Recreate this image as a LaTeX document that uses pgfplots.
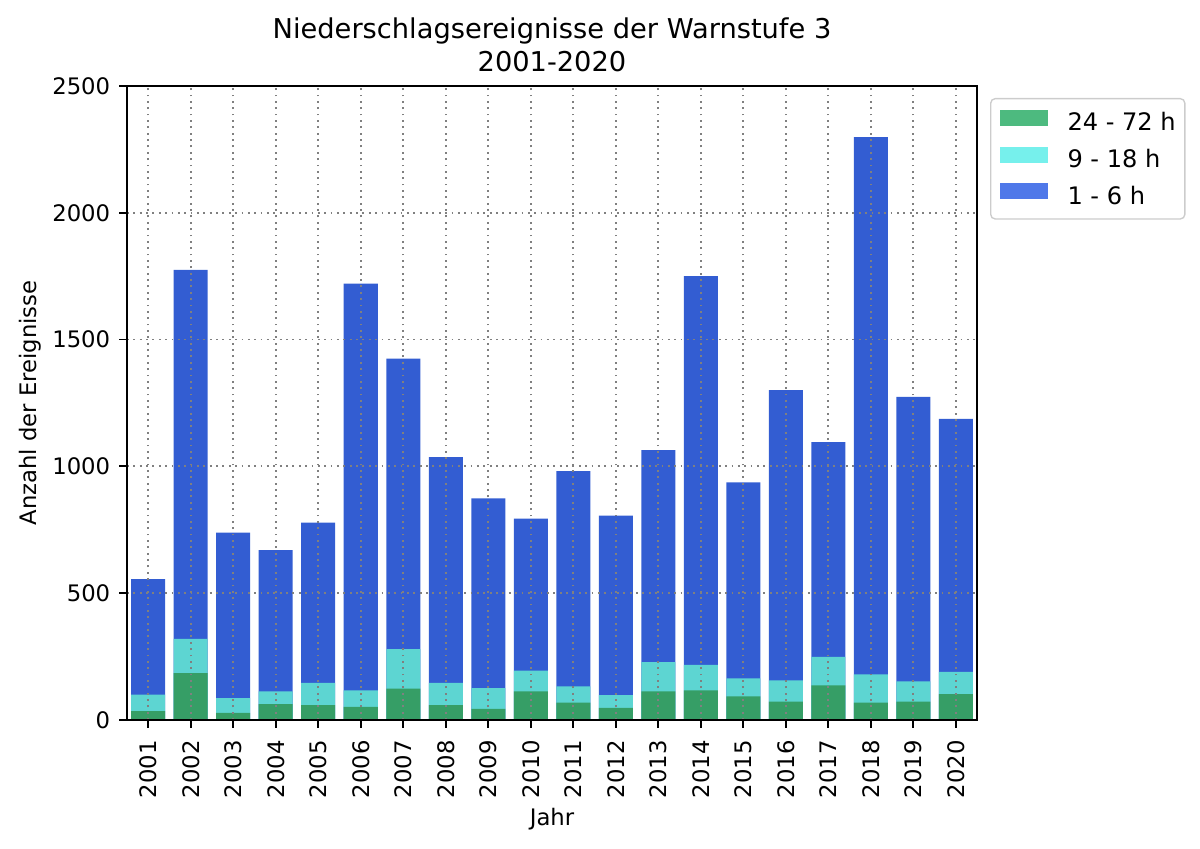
\documentclass[border=0pt]{standalone}
\usepackage{fontspec}
\setmainfont{DejaVu Sans}
\usepackage{pgfplots}
\usepackage{pgfplotstable}
\pgfplotsset{compat=1.18}
\definecolor{barblue}{HTML}{335DD2}
\definecolor{barcyan}{HTML}{5DD5D2}
\definecolor{bargreen}{HTML}{369E66}
\definecolor{legblue}{HTML}{4F78E9}
\definecolor{legcyan}{HTML}{76F0EC}
\definecolor{leggreen}{HTML}{4DBA7F}
\definecolor{gridgray}{HTML}{808080}
\pgfplotstableread{
x tot mid low
0  555 100  35
1 1775 320 185
2  739  86  28
3  670 113  63
4  778 146  59
5 1720 117  52
6 1425 279 124
7 1036 146  59
8  874 126  44
9  794 195 113
10 981 133  69
11 806  98  48
12 1064 228 113
13 1750 217 117
14 937 164  93
15 1301 156  72
16 1096 249 137
17 2298 180  69
18 1274 152  72
19 1187 190 102
}\data
\begin{document}
\begin{tikzpicture}
\begin{axis}[
  at={(0,0)}, anchor=south west,
  scale only axis, width=374pt, height=279pt,
  xmin=-0.5, xmax=19.5, ymin=0, ymax=2500,
  ytick={0,500,1000,1500,2000,2500},
  xtick={0,1,...,19},
  xticklabels={2001,2002,2003,2004,2005,2006,2007,2008,2009,2010,2011,2012,2013,2014,2015,2016,2017,2018,2019,2020},
  tick align=outside, tick pos=left, major tick length=3.5pt,
  axis line style={line width=0.8pt},
  every tick/.style={black, line width=0.8pt},
  grid=major,
  major grid style={gridgray, line width=0.8pt, dash pattern=on 0.8pt off 2pt},
  axis on top,
  font=\fontsize{10}{12}\selectfont,
  /pgf/number format/assume math mode=true,
  /pgf/number format/1000 sep={},
  xticklabel style={rotate=90, anchor=east, inner sep=0pt, font=\fontsize{10}{12}\selectfont},
  yticklabel style={anchor=east, inner sep=0pt, font=\fontsize{10}{12}\selectfont},
  xticklabel shift=5.3pt,
  yticklabel shift=3.7pt,
  title={Niederschlagsereignisse der Warnstufe 3\\2001-2020},
  title style={align=center, inner sep=0pt, yshift=0pt, font=\fontsize{12}{14.3}\selectfont},
  xlabel={Jahr},
  ylabel={Anzahl der Ereignisse},
  every axis x label/.style={at={(axis description cs:0.5,0)}, anchor=base, yshift=-46.2pt, inner sep=0pt},
  every axis y label/.style={at={(axis description cs:0,0.5)}, rotate=90, anchor=base, yshift=39.6pt, inner sep=0pt},
  legend style={at={(1.0153,0.981)}, anchor=north west, draw=black!20, line width=0.6pt,
    rounded corners=2pt, fill=white, inner xsep=4pt, inner ysep=5pt, row sep=5.5pt,
    font=\fontsize{10.6}{12.7}\selectfont,
    nodes={inner sep=0pt, text height=7.7pt, text depth=1.5pt, anchor=west}},
  reverse legend,
  mybar/.style={ybar, bar width=0.8, bar shift=0pt, draw=none,
    legend image code/.code={\fill[##1, sharp corners] (0pt,-0.95pt) rectangle (21pt,6.05pt); \path (29.8pt,0pt);}},
]
\addplot[mybar, fill=barblue, legend image post style={fill=legblue}] table[x=x, y=tot] {\data};
\addlegendentry{1 - 6 h}
\addplot[mybar, fill=barcyan, legend image post style={fill=legcyan}] table[x=x, y=mid] {\data};
\addlegendentry{9 - 18 h}
\addplot[mybar, fill=bargreen, legend image post style={fill=leggreen}] table[x=x, y=low] {\data};
\addlegendentry{24 - 72 h}
\end{axis}
\pgfresetboundingbox
\path[use as bounding box] (-55.88pt,-56.32pt) rectangle (472.12pt,316.8pt);
\end{tikzpicture}
\end{document}
